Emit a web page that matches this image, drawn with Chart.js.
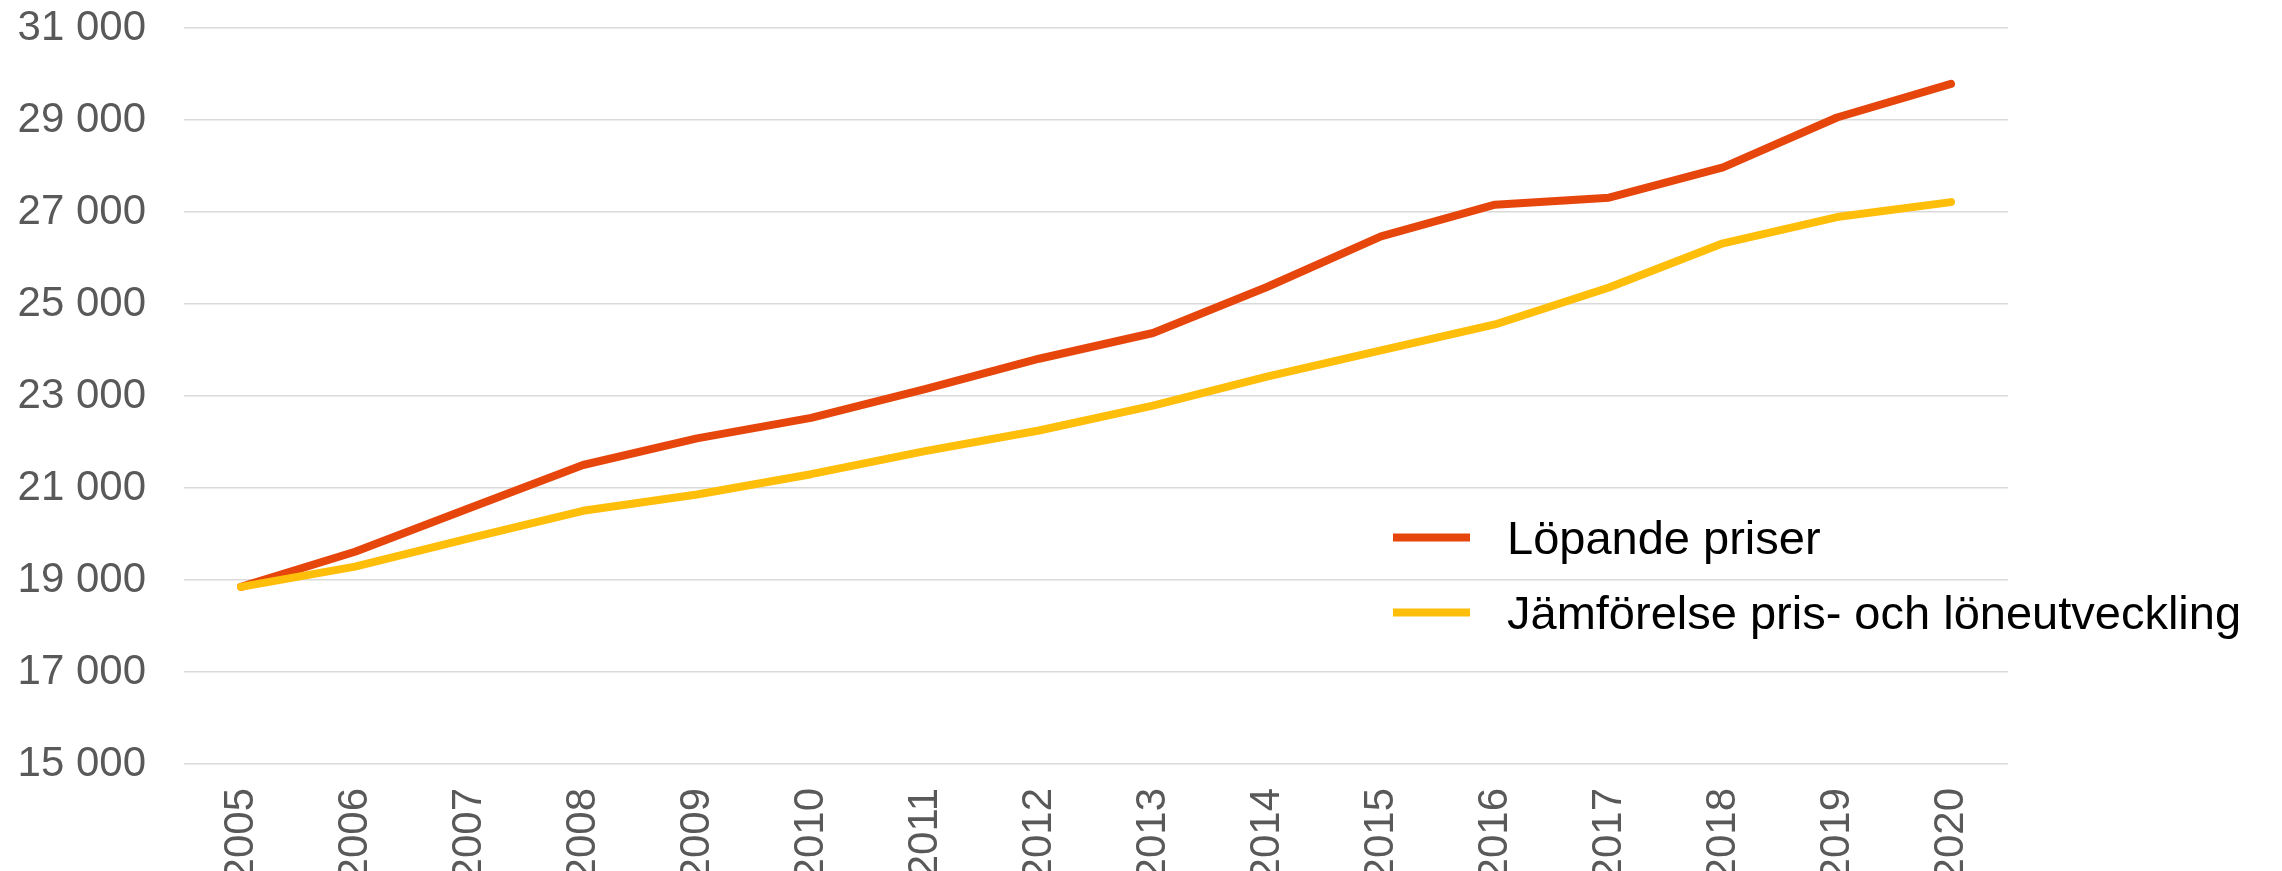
<!DOCTYPE html>
<html lang="sv">
<head>
<meta charset="utf-8">
<title>Löpande priser</title>
<script src="https://cdn.jsdelivr.net/npm/chart.js@4.4.1/dist/chart.umd.min.js"></script>
<style>
  html, body { margin: 0; padding: 0; background: #fff; }
  #wrap { width: 2282px; height: 871px; }
</style>
</head>
<body>
<div id="wrap"><canvas id="chart" width="2282" height="871"></canvas></div>
<script>
// Data
const years = ['2005', '2006', '2007', '2008', '2009', '2010', '2011', '2012',
               '2013', '2014', '2015', '2016', '2017', '2018', '2019', '2020'];
const lopandePriser = [18850, 19615, 20560, 21500, 22080, 22525, 23150, 23810,
                       24370, 25370, 26470, 27160, 27310, 27970, 29055, 29785];
const jamforelse = [18850, 19290, 19905, 20505, 20860, 21300, 21800, 22250,
                    22790, 23420, 23990, 24555, 25360, 26320, 26890, 27215];
const seriesLabels = ['Löpande priser', 'Jämförelse pris- och löneutveckling'];

const FONT = "'Liberation Sans', Arial, sans-serif";

// thousands with a space, e.g. 31 000
function fmt(v) {
    return String(v).replace(/\B(?=(\d{3})+(?!\d))/g, ' ');
}

// Legend sits inside the plot, so draw it ourselves
const insideLegend = {
    id: 'insideLegend',
    afterDraw(chart) {
        const ctx = chart.ctx;
        ctx.save();
        ctx.font = '47px ' + FONT;
        ctx.fillStyle = '#000';
        ctx.textBaseline = 'alphabetic';
        chart.data.datasets.forEach((ds, i) => {
            const y = 537.5 + i * 75;
            ctx.strokeStyle = ds.borderColor;
            ctx.lineWidth = 8;
            ctx.lineCap = 'butt';
            ctx.beginPath();
            ctx.moveTo(1393, y);
            ctx.lineTo(1470, y);
            ctx.stroke();
            ctx.fillText(ds.label, 1507, y + 16);
        });
        ctx.restore();
    }
};

new Chart(document.getElementById('chart'), {
    type: 'line',
    data: {
        labels: years,
        datasets: [{
            label: seriesLabels[0],
            data: lopandePriser,
            borderColor: '#E6450C',
            borderWidth: 8,
            order: 1
        }, {
            label: seriesLabels[1],
            data: jamforelse,
            borderColor: '#FFBE0A',
            borderWidth: 8,
            order: 0
        }]
    },
    options: {
        responsive: false,
        animation: false,
        events: [],
        layout: { padding: { top: 28, right: 274, left: 0, bottom: 0 } },
        elements: {
            line: {
                tension: 0,
                fill: false,
                borderCapStyle: 'round',
                borderJoinStyle: 'round'
            },
            point: { radius: 0 }
        },
        plugins: {
            legend: { display: false },
            tooltip: { enabled: false }
        },
        scales: {
            x: {
                offset: true,
                grid: { display: false, drawTicks: false },
                border: { display: false },
                ticks: {
                    autoSkip: false,
                    minRotation: 90,
                    maxRotation: 90,
                    padding: 24,
                    color: '#595959',
                    font: { family: FONT, size: 42 }
                },
                afterFit: (scale) => {
                    scale.height = 107;
                    scale.paddingLeft = 0;
                    scale.paddingRight = 0;
                }
            },
            y: {
                min: 15000,
                max: 31000,
                grid: { color: '#d9d9d9', lineWidth: 1.5, drawTicks: false },
                border: { display: false },
                ticks: {
                    stepSize: 2000,
                    padding: 38,
                    color: '#595959',
                    font: { family: FONT, size: 42 },
                    callback: (v) => fmt(v)
                },
                afterFit: (scale) => {
                    scale.width = 184;
                    scale.paddingTop = 0;
                    scale.paddingBottom = 0;
                }
            }
        }
    },
    plugins: [insideLegend]
});
</script>
</body>
</html>
